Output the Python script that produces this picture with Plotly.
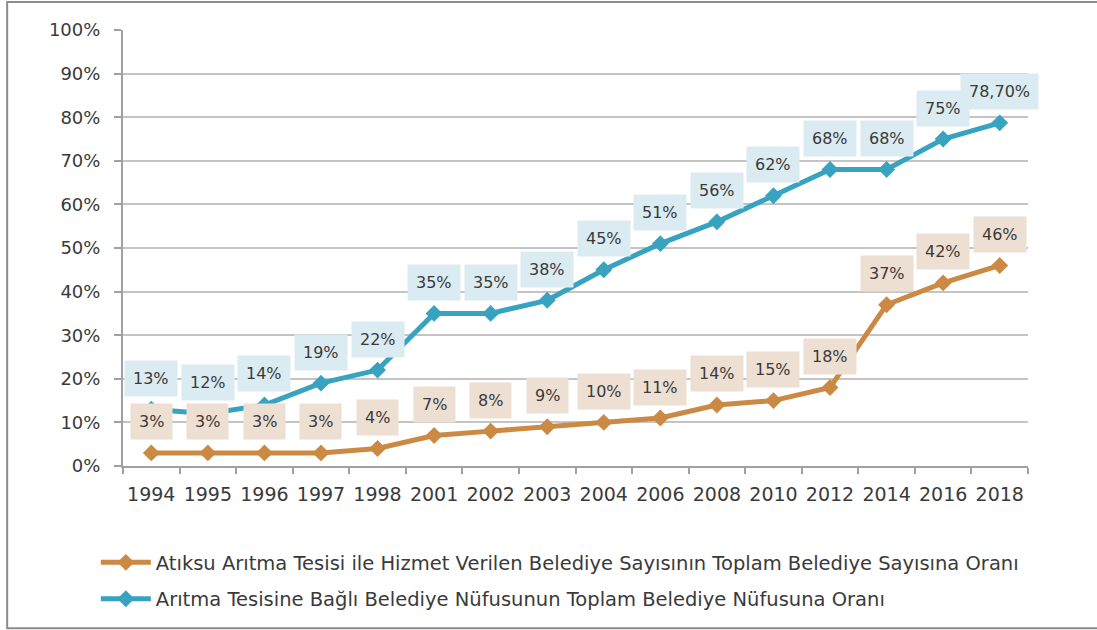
import plotly.graph_objects as go

years = ["1994", "1995", "1996", "1997", "1998", "2001", "2002", "2003",
         "2004", "2006", "2008", "2010", "2012", "2014", "2016", "2018"]

# Share of municipalities served by a wastewater treatment plant (%)
belediye_orani = [3, 3, 3, 3, 4, 7, 8, 9, 10, 11, 14, 15, 18, 37, 42, 46]
belediye_etiket = ["3%", "3%", "3%", "3%", "4%", "7%", "8%", "9%", "10%",
                   "11%", "14%", "15%", "18%", "37%", "42%", "46%"]

# Share of municipal population connected to a treatment plant (%)
nufus_orani = [13, 12, 14, 19, 22, 35, 35, 38, 45, 51, 56, 62, 68, 68, 75, 78.7]
nufus_etiket = ["13%", "12%", "14%", "19%", "22%", "35%", "35%", "38%", "45%",
                "51%", "56%", "62%", "68%", "68%", "75%", "78,70%"]

name_belediye = "Atıksu Arıtma Tesisi ile Hizmet Verilen Belediye Sayısının Toplam Belediye Sayısına Oranı"
name_nufus = "Arıtma Tesisine Bağlı Belediye Nüfusunun Toplam Belediye Nüfusuna Oranı"

ORANGE = "#CC8944"
BLUE = "#37A3C1"
ORANGE_BOX = "#EDDFD2"
BLUE_BOX = "#DBEBF2"
TEXT = "#3A3A3A"
FONT = "DejaVu Sans"

fig = go.Figure()
fig.add_trace(go.Scatter(
    x=years, y=belediye_orani, name=name_belediye, mode="lines+markers",
    line=dict(color=ORANGE, width=5), legendgroup="a",
    marker=dict(symbol="diamond", size=13, color=ORANGE),
))
fig.add_trace(go.Scatter(
    x=years, y=nufus_orani, name=name_nufus, mode="lines+markers",
    line=dict(color=BLUE, width=5), legendgroup="b",
    marker=dict(symbol="diamond", size=13, color=BLUE),
))

# Value boxes above each point (x given as category index)
annotations = []
for series, labels, box in ((nufus_orani, nufus_etiket, BLUE_BOX),
                            (belediye_orani, belediye_etiket, ORANGE_BOX)):
    for i, (val, lab) in enumerate(zip(series, labels)):
        annotations.append(dict(
            x=i, y=val, xref="x", yref="y", text=lab, showarrow=False,
            yshift=31, bgcolor=box, borderpad=8,
            font=dict(family=FONT, size=16, color=TEXT),
        ))

fig.update_layout(
    width=1097, height=630,
    margin=dict(l=123, r=69, t=30, b=164),
    paper_bgcolor="white", plot_bgcolor="white",
    font=dict(family=FONT, color=TEXT),
    annotations=annotations,
    showlegend=True,
    legend=dict(
        x=-0.03, y=-0.177, xanchor="left", yanchor="top",
        orientation="v", traceorder="grouped", tracegroupgap=8,
        font=dict(family=FONT, size=19.5, color=TEXT),
        itemwidth=50, bgcolor="rgba(0,0,0,0)",
    ),
    xaxis=dict(
        type="category", range=[-0.5, 15.5],
        showline=True, linecolor="#A0A0A0", linewidth=2,
        ticks="outside", tickson="boundaries", ticklen=6,
        tickcolor="#A0A0A0", tickwidth=2, ticklabelstandoff=10,
        tickangle=0,
        showgrid=False, tickfont=dict(family=FONT, size=19, color=TEXT),
    ),
    yaxis=dict(
        range=[0, 100], dtick=10, ticksuffix="%",
        showline=True, linecolor="#A0A0A0", linewidth=2,
        ticks="outside", ticklen=7, tickcolor="#A0A0A0", tickwidth=2,
        ticklabelstandoff=10,
        gridcolor="#C4C4C4", gridwidth=2, zeroline=False,
        tickfont=dict(family=FONT, size=18, color=TEXT),
    ),
    shapes=[dict(
        type="rect", xref="paper", yref="paper",
        x0=-0.128, x1=1.09, y0=-0.372, y1=1.064,
        line=dict(color="#8C8C8C", width=2), layer="below",
    )],
)

fig.write_html("out.html")
